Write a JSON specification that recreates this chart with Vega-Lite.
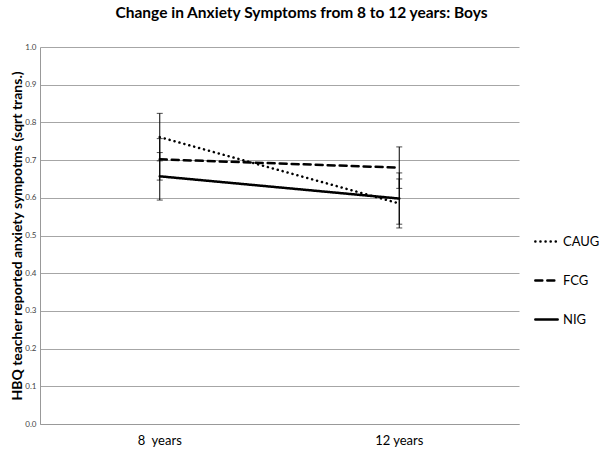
{
  "$schema": "https://vega.github.io/schema/vega-lite/v6.json",
  "width": 479,
  "height": 377,
  "autosize": "none",
  "padding": {"left": 40, "top": 47, "right": 81, "bottom": 30},
  "background": "white",
  "title": {
    "text": "Change in Anxiety Symptoms from 8 to 12 years: Boys",
    "font": "Lato",
    "fontSize": 15.5,
    "fontWeight": "bold",
    "color": "#000000",
    "anchor": "middle",
    "offset": 22,
    "dx": 22
  },
  "config": {
    "view": {"stroke": null},
    "font": "Lato"
  },
  "data": {
    "values": [
      {"group": "CAUG", "age": "8\u00a0 years", "mean": 0.761, "lo": 0.698, "hi": 0.824},
      {"group": "CAUG", "age": "12 years", "mean": 0.585, "lo": 0.52, "hi": 0.65},
      {"group": "FCG", "age": "8\u00a0 years", "mean": 0.702, "lo": 0.647, "hi": 0.757},
      {"group": "FCG", "age": "12 years", "mean": 0.68, "lo": 0.625, "hi": 0.735},
      {"group": "NIG", "age": "8\u00a0 years", "mean": 0.657, "lo": 0.594, "hi": 0.72},
      {"group": "NIG", "age": "12 years", "mean": 0.598, "lo": 0.53, "hi": 0.666}
    ]
  },
  "encoding": {
    "x": {
      "field": "age",
      "type": "nominal",
      "sort": ["8\u00a0 years", "12 years"],
      "scale": {"paddingInner": 0, "paddingOuter": 0},
      "axis": {
        "title": null,
        "labelAngle": 0,
        "labelFont": "Lato",
        "labelFontSize": 13,
        "labelColor": "#000000",
        "labelPadding": 10,
        "ticks": false,
        "domainColor": "#999999",
        "domainWidth": 1
      }
    },
    "y": {
      "field": "lo",
      "type": "quantitative",
      "scale": {"domain": [0, 1], "nice": false},
      "axis": {
        "title": "HBQ teacher reported anxiety sympotms (sqrt trans.)",
        "titleFont": "Lato",
        "titleFontSize": 14,
        "titleFontWeight": "bold",
        "titleColor": "#000000",
        "titlePadding": 0,
        "values": [0, 0.1, 0.2, 0.3, 0.4, 0.5, 0.6, 0.7, 0.8, 0.9, 1],
        "labelOverlap": false,
        "labelFontSize": 8,
        "labelColor": "#444444",
        "labelPadding": 4,
        "ticks": false,
        "grid": true,
        "gridColor": "#a6a6a6",
        "gridWidth": 1,
        "domainColor": "#999999"
      }
    }
  },
  "layer": [
    {
      "mark": {"type": "rule", "color": "#000000", "strokeWidth": 1},
      "encoding": {
        "y2": {"field": "hi"}
      }
    },
    {
      "mark": {"type": "tick", "color": "#000000", "size": 6, "thickness": 1},
      "encoding": {}
    },
    {
      "mark": {"type": "tick", "color": "#000000", "size": 6, "thickness": 1},
      "encoding": {"y": {"field": "hi", "type": "quantitative"}}
    },
    {
      "mark": {"type": "line", "color": "#000000", "strokeWidth": 2.5, "strokeCap": "round"},
      "encoding": {
        "y": {"field": "mean", "type": "quantitative"},
        "strokeDash": {
          "field": "group",
          "type": "nominal",
          "scale": {"domain": ["CAUG", "FCG", "NIG"], "range": [[0.1, 5], [7, 5], [1, 0]]},
          "legend": {
            "title": null,
            "orient": "none",
            "legendX": 494,
            "legendY": 182,
            "symbolType": "stroke",
            "symbolSize": 500,
            "symbolStrokeWidth": 2.5,
            "symbolStrokeColor": "#000000",
            "labelFont": "Lato",
            "labelFontSize": 13,
            "labelColor": "#000000",
            "rowPadding": 19,
            "labelOffset": 4,
            "encode": {"symbols": {"update": {"strokeCap": {"value": "round"}}}}
          }
        }
      }
    }
  ]
}
